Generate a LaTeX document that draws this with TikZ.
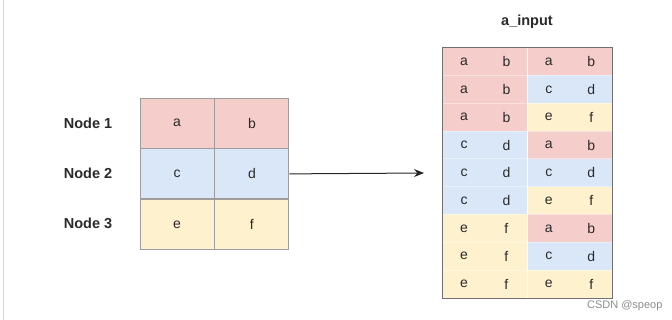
\documentclass[tikz,border=0pt]{standalone}
\usepackage{fontspec}
\setmainfont{Liberation Sans}
\usetikzlibrary{arrows.meta,positioning}
\definecolor{dxred}{HTML}{F5CDCB}
\definecolor{dxblue}{HTML}{DAE7F8}
\definecolor{dxyellow}{HTML}{FEF1CD}
\definecolor{dxline}{HTML}{A09C9A}
\definecolor{dxframe}{HTML}{707070}
\definecolor{dxink}{HTML}{2A2A2A}
\definecolor{dxedge}{HTML}{D8D8D8}

\begin{document}
\begin{tikzpicture}[x=1pt,y=-1pt,
  cell/.style={rectangle,draw=dxline,line width=0.9pt,minimum width=74pt,
    minimum height=50pt,inner sep=0pt,text=dxink,font=\fontsize{14}{16}\selectfont},
  pcell/.style={rectangle,minimum width=42pt,minimum height=27.8pt,inner sep=0pt,
    text=dxink,font=\fontsize{14}{16}\selectfont},
  rowlab/.style={text=dxink,font=\bfseries\fontsize{14.5}{17}\selectfont},
  node distance=0pt
]
\useasboundingbox (0,0) rectangle (672,320);
\draw[dxedge,line width=1pt] (3.5,0) -- (3.5,320);

% left: the three nodes
\node[cell,fill=dxred] (l1a) at (177,123) {a};
\node[cell,fill=dxred,right=of l1a] (l1b) {b};
\node[cell,fill=dxblue,below=of l1a] (l2a) {c};
\node[cell,fill=dxblue,right=of l2a] (l2b) {d};
\node[cell,fill=dxyellow,below=of l2a] (l3a) {e};
\node[cell,fill=dxyellow,right=of l3a] (l3b) {f};
\node[rowlab] (n1) at (88,123) {Node 1};
\node[rowlab] (n2) at (88,173) {Node 2};
\node[rowlab] (n3) at (88,223) {Node 3};

% right: all pairs
\node[rowlab] (title) at (527,22) {a\_input};
\foreach \i/\la/\lb/\lc/\ra/\rb/\rc in {
  0/a/b/dxred/a/b/dxred, 1/a/b/dxred/c/d/dxblue, 2/a/b/dxred/e/f/dxyellow,
  3/c/d/dxblue/a/b/dxred, 4/c/d/dxblue/c/d/dxblue, 5/c/d/dxblue/e/f/dxyellow,
  6/e/f/dxyellow/a/b/dxred, 7/e/f/dxyellow/c/d/dxblue, 8/e/f/dxyellow/e/f/dxyellow}{
  \node[pcell,fill=\lc] (r\i a) at (464,61.6+27.8*\i) {\la};
  \node[pcell,fill=\lc,right=of r\i a] (r\i b) {\lb};
  \node[pcell,fill=\rc,right=of r\i b] (r\i c) {\ra};
  \node[pcell,fill=\rc,right=of r\i c] (r\i d) {\rb};
  \draw[white,opacity=0.4,line width=0.6pt] (r\i a.north west) -- (r\i d.north east);
}
\draw[dxframe,line width=1pt] (r0a.north west) rectangle (r8d.south east);

\coordinate (tip) at (424,173);
\draw[-{Stealth[length=10pt,width=8pt]},black!85,line width=1pt] (l2b.east) -- (tip);

\node[anchor=east,text=black!45,font=\fontsize{11}{13}\selectfont] (mark) at (666,306) {CSDN @speop};
\end{tikzpicture}
\end{document}
